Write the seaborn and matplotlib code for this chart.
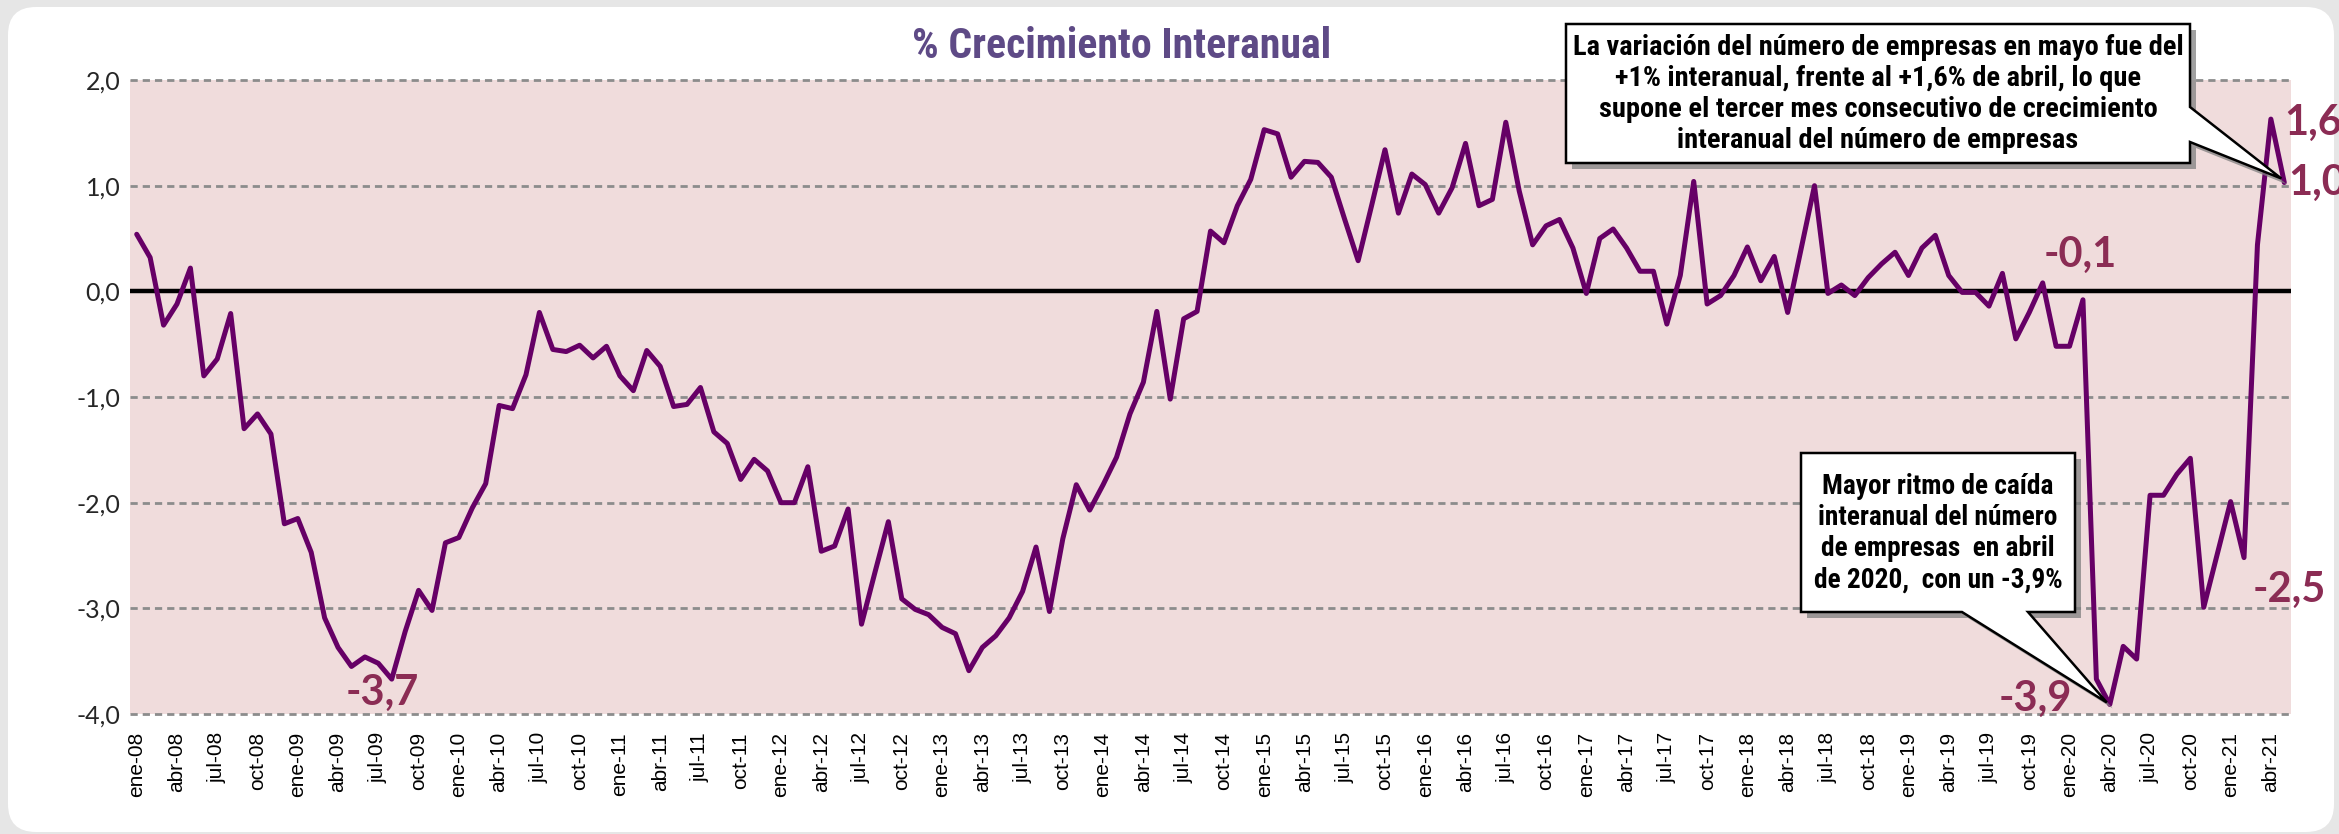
import os
import matplotlib
matplotlib.use('Agg')
import matplotlib.pyplot as plt
from matplotlib import font_manager
from matplotlib.font_manager import FontProperties
from matplotlib.patches import FancyBboxPatch, Polygon
from matplotlib.transforms import IdentityTransform
import seaborn as sns
import pandas as pd

# Datos: % crecimiento interanual del número de empresas (ene-08 a may-21).
meses = ['ene', 'feb', 'mar', 'abr', 'may', 'jun', 'jul', 'ago', 'sep', 'oct', 'nov', 'dic']
anio_inicio = 8
crecimiento = [
    0.54, 0.32, -0.32, -0.12, 0.22, -0.80, -0.64, -0.21, -1.30, -1.16,
    -1.35, -2.20, -2.15, -2.47, -3.09, -3.37, -3.55, -3.46, -3.52, -3.67,
    -3.22, -2.83, -3.02, -2.38, -2.33, -2.05, -1.82, -1.08, -1.11, -0.79,
    -0.20, -0.55, -0.57, -0.51, -0.63, -0.52, -0.80, -0.94, -0.56, -0.71,
    -1.09, -1.07, -0.91, -1.33, -1.44, -1.78, -1.59, -1.70, -2.00, -2.00,
    -1.66, -2.46, -2.41, -2.06, -3.15, -2.66, -2.18, -2.91, -3.01, -3.06,
    -3.18, -3.24, -3.59, -3.37, -3.26, -3.09, -2.84, -2.42, -3.03, -2.34,
    -1.83, -2.07, -1.83, -1.57, -1.16, -0.86, -0.19, -1.02, -0.26, -0.19,
    0.57, 0.46, 0.81, 1.06, 1.53, 1.49, 1.08, 1.23, 1.22, 1.08,
    0.68, 0.29, 0.81, 1.34, 0.74, 1.11, 1.01, 0.74, 0.98, 1.40,
    0.81, 0.87, 1.60, 0.95, 0.44, 0.62, 0.68, 0.41, -0.02, 0.50,
    0.59, 0.41, 0.19, 0.19, -0.31, 0.15, 1.04, -0.12, -0.04, 0.15,
    0.42, 0.10, 0.33, -0.20, 0.40, 1.00, -0.02, 0.06, -0.04, 0.13,
    0.26, 0.37, 0.15, 0.41, 0.53, 0.15, -0.01, -0.01, -0.14, 0.17,
    -0.45, -0.20, 0.08, -0.52, -0.52, -0.08, -3.67, -3.91, -3.36, -3.48,
    -1.93, -1.93, -1.73, -1.58, -2.99, -2.49, -1.99, -2.52, 0.44, 1.63, 1.03,
]
y_ticks = [-4, -3, -2, -1, 0, 1, 2]

# Puntos con etiqueta: índice del mes, desplazamiento en píxeles, alineación
destacados = [(19, -9, -14, 'center'), (145, -3, 45, 'center'),
              (147, -38, 6, 'right'), (157, 9, -32, 'left'),
              (159, 13, -4, 'left'), (160, 4, 0, 'left')]

titulo = '% Crecimiento Interanual'
texto_mayo = ('La variación del número de empresas en mayo fue del\n'
              '+1% interanual, frente al +1,6% de abril, lo que\n'
              'supone el tercer mes consecutivo de crecimiento\n'
              'interanual del número de empresas')
texto_abril = ('Mayor ritmo de caída\ninteranual del número\n'
               'de empresas  en abril\nde 2020,  con un -3,9%')

W, H = 2339, 834
sns.set_theme(style='white')


def fuente(archivo, familia, **kw):
    # usa el archivo exacto si está instalado
    for f in font_manager.fontManager.ttflist:
        if os.path.basename(f.fname).lower() == archivo.lower():
            return FontProperties(fname=f.fname, **kw)
    return FontProperties(family=familia, **kw)


names = {f.name for f in font_manager.fontManager.ttflist}
narrow = 'Liberation Sans'
for cand in ['Liberation Sans Narrow', 'Roboto Condensed', 'Open Sans Condensed',
             'DejaVu Sans Condensed']:
    if cand in names:
        narrow = cand
        break
fp_estrecha = fuente('LiberationSansNarrow-Bold.ttf', narrow, weight='bold')
fp_eje_x = fuente('LiberationSans-Regular.ttf', 'Liberation Sans', size=15)
plt.rcParams['font.family'] = ['Liberation Sans', 'DejaVu Sans']

fig = plt.figure(figsize=(W / 100, H / 100), dpi=100, facecolor='#e6e6e6')

# Panel blanco redondeado
panel = FancyBboxPatch((8, H - 832), 2326, 825, boxstyle='round,pad=0,rounding_size=28',
                       transform=IdentityTransform(), facecolor='white',
                       edgecolor='none', zorder=-5)
fig.add_artist(panel)

ax = fig.add_axes([130 / W, 1 - 714 / H, (2291 - 130) / W, (714 - 80) / H])
ax.set_facecolor('#f0dcdc')

df = pd.DataFrame({'mes': range(len(crecimiento)), 'crecimiento': crecimiento})
sns.lineplot(data=df, x='mes', y='crecimiento', color='#660066', linewidth=3.6,
             ax=ax, zorder=5)

ax.set_xlim(-0.5, len(crecimiento) - 0.5)
ax.set_ylim(-4, 2)
for v in y_ticks:
    if v == 0:
        ax.axhline(v, color='black', lw=3.2, zorder=3)
    else:
        ax.axhline(v, color='#8c8c8c', lw=2, dashes=(2.6, 1.8), zorder=2, clip_on=False)
ax.grid(False)
for s in ax.spines.values():
    s.set_visible(False)

ax.set_yticks(y_ticks)
ax.set_yticklabels([f'{v:.1f}'.replace('.', ',') for v in y_ticks])
pos = list(range(0, len(crecimiento), 3))
ax.set_xticks(pos)
ax.set_xticklabels([f'{meses[m % 12]}-{anio_inicio + m // 12:02d}' for m in pos],
                   rotation=90, fontproperties=fp_eje_x, color='black')
ax.tick_params(axis='y', length=0, pad=7, labelsize=18, labelcolor='#262626',
               labelfontfamily='Lato')
ax.tick_params(axis='x', length=0, pad=13)
ax.set_xlabel('')
ax.set_ylabel('')

etiquetas = []
for m, dx, dy, ha in destacados:
    v = crecimiento[m]
    etiquetas.append(ax.annotate(
        f'{v:.1f}'.replace('.', ','), xy=(m, v), xytext=(dx, dy),
        textcoords='offset pixels', ha=ha, va='center', fontsize=30,
        weight='bold', family='Lato', color='#8b2c54',
        annotation_clip=False, zorder=6))

fig.canvas.draw()
renderer = fig.canvas.get_renderer()


def ajustar(t, ancho):
    # ajusta el tamaño de letra al ancho medido en la referencia
    w = t.get_window_extent(renderer).width
    t.set_fontsize(t.get_fontsize() * ancho / w)


ajustar(etiquetas[0], 73)
for e in etiquetas[1:]:
    e.set_fontsize(etiquetas[0].get_fontsize())

t_titulo = fig.text(1122 / W, 1 - 46 / H, titulo, ha='center', va='center',
                    fontproperties=fp_estrecha, color='#5e4a86')
t_titulo.set_fontsize(27)
ajustar(t_titulo, 419)


def callout(puntos, texto, cx, cy, ancho):
    disp = [(x, H - y) for x, y in puntos]
    sombra = Polygon([(x + 6, y - 6) for x, y in disp], closed=True,
                     transform=IdentityTransform(), facecolor='#808080',
                     edgecolor='none', alpha=0.75, zorder=8)
    caja = Polygon(disp, closed=True, transform=IdentityTransform(),
                   facecolor='white', edgecolor='black', lw=1.8, zorder=9)
    fig.add_artist(sombra)
    fig.add_artist(caja)
    t = fig.text(cx / W, 1 - cy / H, texto, ha='center', va='center',
                 multialignment='center', linespacing=1.2,
                 fontproperties=fp_estrecha, color='black', zorder=10)
    t.set_fontsize(17)
    ajustar(t, ancho)


# punta de las flechas sobre los datos
tx1, ty1 = ax.transData.transform((160, crecimiento[160]))
tx2, ty2 = ax.transData.transform((147, crecimiento[147]))
ty1, ty2 = H - ty1, H - ty2

callout([(1566, 24), (2190, 24), (2190, 107), (tx1 - 3, ty1 - 4), (2190, 142),
         (2190, 163), (1566, 163)], texto_mayo, 1878, 94, 612)
callout([(1801, 453), (2075, 453), (2075, 612), (2028, 612), (tx2 - 3, ty2 - 2),
         (1962, 612), (1801, 612)], texto_abril, 1938, 533, 250)

fig.savefig('out.png', dpi=100, facecolor=fig.get_facecolor())
